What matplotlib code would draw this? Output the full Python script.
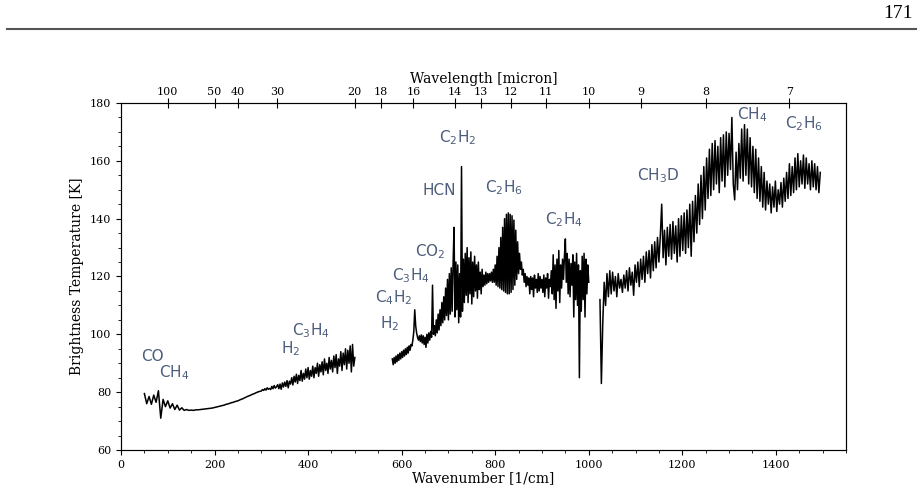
import matplotlib
matplotlib.use("Agg")
import matplotlib.pyplot as plt
from matplotlib.lines import Line2D
from matplotlib.ticker import AutoMinorLocator
import numpy as np

# far-IR segment, 50-295 cm-1 every 5, then 300-500 every 2.5
wn_far_a = np.arange(50, 296, 5)
tb_far_a = [79.5, 76.0, 78.5, 75.8, 79.0, 76.5, 80.5, 71.0, 77.5, 75.0,
            77.0, 74.5, 76.0, 74.0, 75.5, 73.8, 74.6, 73.7, 74.0, 73.7,
            73.8, 73.7, 73.9, 73.9, 74.0, 74.1, 74.2, 74.3, 74.4, 74.5,
            74.7, 74.9, 75.1, 75.3, 75.5, 75.8, 76.0, 76.3, 76.5, 76.8,
            77.0, 77.4, 77.7, 78.1, 78.5, 78.8, 79.2, 79.5, 79.9, 80.2]
wn_far_b = np.arange(300, 500.1, 2.5)
tb_far_b = [80.4, 80.9, 80.6, 81.2, 80.7, 81.5, 81.0, 81.3, 80.9, 82.0,
            81.2, 82.3, 81.4, 81.9, 82.6, 81.2, 82.8, 81.0, 83.2, 81.8,
            83.5, 82.0, 84.0, 81.5, 83.8, 82.8, 85.0, 82.5, 85.5, 83.5,
            86.2, 83.0, 85.8, 84.0, 87.5, 83.8, 86.5, 84.5, 88.0, 85.0,
            88.5, 84.5, 87.5, 85.5, 89.0, 85.0, 88.5, 86.5, 90.0, 85.5,
            89.5, 87.0, 90.5, 86.0, 91.5, 87.5, 90.0, 86.5, 92.0, 88.0,
            91.0, 87.0, 92.5, 88.5, 93.0, 86.5, 91.5, 89.0, 94.0, 87.5,
            93.5, 89.5, 95.0, 88.0, 94.5, 90.0, 96.0, 87.0, 96.5, 89.0,
            92.0]

# mid-IR segment, 580-1000 cm-1 every 2
wn_mid = np.arange(580, 1001, 2)
tb_mid = [91.5, 89.5, 92.0, 90.0, 92.5, 90.5, 93.0, 91.0, 93.5, 91.5,
          94.0, 92.0, 94.5, 92.5, 95.0, 93.0, 95.5, 93.5, 96.0, 94.5,
          96.5, 96.0, 98.0, 101.0, 108.5, 103.0, 100.5, 99.0, 98.0, 99.5,
          97.5, 99.8, 97.0, 99.5, 96.5, 99.0, 95.5, 100.0, 97.0, 100.5,
          98.0, 101.0, 99.0, 117.0, 100.0, 103.0, 99.5, 105.0, 100.5, 107.0,
          101.5, 108.5, 103.0, 111.0, 104.0, 113.0, 105.0, 116.0, 106.5, 119.0,
          105.0, 121.0, 107.0, 123.0, 108.0, 124.5, 137.0, 106.0, 125.0, 108.5,
          124.0, 104.0, 121.0, 106.0, 158.0, 108.0, 126.0, 111.0, 128.0, 113.5,
          130.0, 111.0, 126.5, 114.0, 128.5, 110.5, 125.0, 113.0, 127.0, 115.0,
          124.0, 112.5, 125.0, 115.5, 121.5, 114.0, 122.5, 116.5, 120.5, 117.0,
          121.5, 117.5, 121.0, 118.0, 121.0, 118.5, 121.5, 118.0, 122.5, 118.0,
          124.0, 117.0, 127.0, 116.5, 130.0, 116.0, 133.5, 115.5, 137.0, 115.0,
          140.0, 114.5, 141.5, 114.0, 142.0, 114.0, 141.5, 114.5, 141.0, 115.5,
          139.5, 117.0, 136.0, 119.0, 132.0, 121.0, 128.0, 122.5, 125.0, 120.5,
          122.5, 118.0, 121.0, 116.5, 120.0, 117.0, 119.5, 114.0, 120.0, 115.5,
          119.5, 113.0, 120.5, 116.0, 119.0, 114.5, 121.0, 115.0, 120.0, 116.0,
          119.0, 114.5, 120.5, 113.0, 119.5, 116.0, 121.0, 112.5, 119.0, 116.5,
          122.0, 114.0, 127.5, 112.0, 124.0, 109.0, 126.0, 115.0, 129.0, 111.0,
          124.0, 116.0, 126.0, 119.0, 127.0, 133.0, 118.0, 128.0, 114.0, 126.0,
          113.0, 124.5, 117.0, 127.5, 106.0, 125.0, 112.0, 128.0, 110.0, 124.0,
          85.0, 122.0, 108.0, 127.0, 112.0, 128.0, 106.0, 126.0, 114.0, 124.0,
          118.0]

# short-wave segment, 1024-1495 cm-1 every 3
wn_near = np.arange(1024, 1496, 3)
tb_near = [112.0, 83.0, 104.0, 118.0, 110.0, 121.0, 113.0, 122.0, 114.0, 121.5,
           115.0, 120.0, 113.0, 121.0, 116.0, 119.0, 114.5, 120.5, 116.0, 122.0,
           115.0, 123.0, 117.0, 121.5, 113.5, 124.0, 118.0, 125.0, 116.5, 126.0,
           119.0, 127.0, 118.0, 128.5, 121.0, 129.0, 119.5, 131.0, 122.0, 132.0,
           123.0, 133.5, 125.0, 134.0, 145.0, 126.5, 136.0, 124.0, 137.0, 127.0,
           138.0, 126.0, 139.0, 128.0, 137.5, 125.0, 140.0, 127.0, 141.0, 129.0,
           142.0, 128.0, 143.0, 130.0, 145.0, 127.0, 146.0, 132.0, 148.0, 135.0,
           152.0, 138.0, 155.0, 140.0, 158.0, 143.0, 161.0, 147.0, 164.0, 148.0,
           166.0, 150.0, 167.0, 152.0, 165.0, 149.0, 168.0, 153.0, 169.0, 151.0,
           170.0, 155.0, 169.5, 157.0, 175.0, 152.0, 146.5, 163.0, 150.0, 166.0,
           154.0, 171.0, 153.0, 172.5, 155.0, 171.0, 152.0, 168.0, 151.0, 165.0,
           149.0, 164.0, 147.0, 161.0, 146.0, 158.0, 144.0, 156.0, 143.0, 153.0,
           145.0, 152.0, 142.0, 151.0, 144.0, 153.0, 142.5, 150.0, 145.0, 152.5,
           144.0, 154.0, 146.0, 156.0, 147.0, 159.0, 148.0, 158.0, 149.0, 161.0,
           150.0, 162.5, 151.0, 160.0, 152.0, 162.0, 150.5, 161.0, 152.0, 159.0,
           150.0, 160.0, 151.0, 159.0, 150.0, 158.0, 149.0, 156.0]

# molecule labels: text, wavenumber, temperature
mol_names = ['CO', 'CH$_4$', 'H$_2$', 'C$_3$H$_4$', 'H$_2$', 'C$_4$H$_2$',
             'C$_3$H$_4$', 'CO$_2$', 'HCN', 'C$_2$H$_2$', 'C$_2$H$_6$',
             'C$_2$H$_4$', 'CH$_3$D', 'CH$_4$', 'C$_2$H$_6$']
mol_x = [43, 81, 342, 365, 553, 543, 579, 628, 645, 679, 778, 906, 1103, 1318, 1419]
mol_y = [92.5, 86.6, 95.0, 101.2, 103.6, 112.6, 120.2, 128.5, 149.6, 168.0,
         150.7, 139.6, 155.0, 175.9, 172.8]

wl_ticks = [100, 50, 40, 30, 20, 18, 16, 14, 13, 12, 11, 10, 9, 8, 7]

plt.rcParams['font.family'] = 'DejaVu Serif'
plt.rcParams['mathtext.fontset'] = 'dejavusans'

fig = plt.figure(figsize=(9.21, 4.94), dpi=100)
ax = fig.add_axes([121/921, 44/494, 725/921, 347/494])

wn_far = np.concatenate([wn_far_a, wn_far_b])
tb_far = tb_far_a + tb_far_b
for w, t in [(wn_far, tb_far), (wn_mid, tb_mid), (wn_near, tb_near)]:
    ax.plot(w, t, color='black', lw=1.1)

for name, x, y in zip(mol_names, mol_x, mol_y):
    ax.text(x, y, name, family='DejaVu Sans', fontsize=11, color='#4c5d7c',
            ha='left', va='center')

ax.set_xlim(0, 1550)
ax.set_ylim(60, 180)
ax.set_yticks(np.arange(60, 181, 20))
ax.xaxis.set_minor_locator(AutoMinorLocator())
ax.yaxis.set_minor_locator(AutoMinorLocator())
ax.tick_params(labelsize=8)
ax.set_xlabel('Wavenumber [1/cm]', fontsize=10, labelpad=1)
ax.set_ylabel('Brightness Temperature [K]', fontsize=10, labelpad=4)
for s in ax.spines.values():
    s.set_color('#444444')

# wavelength scale on top
top = ax.twiny()
top.set_xlim(ax.get_xlim())
top.set_xticks([1e4 / w for w in wl_ticks])
top.set_xticklabels([str(w) for w in wl_ticks])
top.tick_params(labelsize=8, direction='inout', length=7, pad=1)
top.set_xlabel('Wavelength [micron]', fontsize=10, labelpad=3)

# page header
fig.text(0.991, 0.972, '171', ha='right', va='center', fontsize=14,
         family='Liberation Serif')
fig.add_artist(Line2D([7/921, 916/921], [1 - 29/494, 1 - 29/494],
                      color='#555555', lw=1.5))

fig.savefig('out.png', dpi=100)
